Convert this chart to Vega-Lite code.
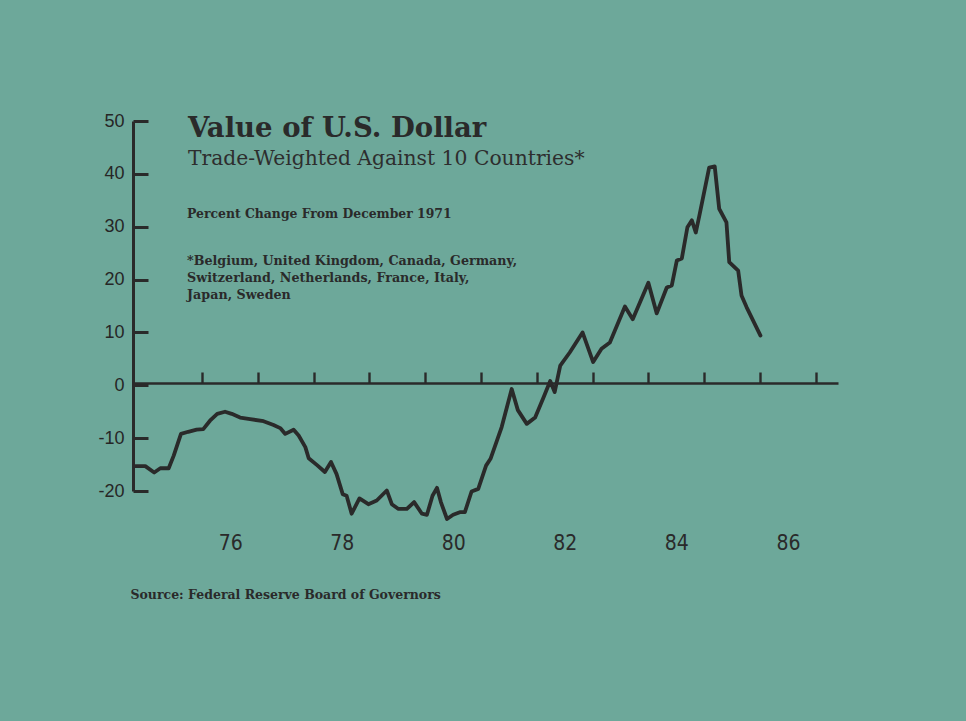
{
  "$schema": "https://vega.github.io/schema/vega-lite/v6.json",
  "width": 705,
  "height": 370,
  "autosize": {"type": "none"},
  "padding": {"left": 133, "top": 121, "right": 128, "bottom": 230},
  "background": "#6da89a",
  "title": {
    "text": "Value of U.S. Dollar",
    "subtitle": "Trade-Weighted Against 10 Countries*",
    "anchor": "start",
    "frame": "group",
    "dx": 55,
    "offset": -57,
    "font": "DejaVu Serif",
    "fontSize": 27.5,
    "fontWeight": "bold",
    "color": "#2a2a2a",
    "subtitleFont": "DejaVu Serif",
    "subtitleFontSize": 20.3,
    "subtitleColor": "#2e2e2e",
    "subtitlePadding": 6
  },
  "resolve": {"axis": {"x": "independent", "y": "independent"}},
  "datasets": {
    "dollar": [
      {"year": 1974.80, "value": -15.3},
      {"year": 1974.98, "value": -15.3},
      {"year": 1975.14, "value": -16.5},
      {"year": 1975.25, "value": -15.7},
      {"year": 1975.40, "value": -15.7},
      {"year": 1975.49, "value": -13.3},
      {"year": 1975.62, "value": -9.2},
      {"year": 1975.75, "value": -8.8},
      {"year": 1975.90, "value": -8.4},
      {"year": 1976.02, "value": -8.3},
      {"year": 1976.14, "value": -6.7},
      {"year": 1976.27, "value": -5.4},
      {"year": 1976.41, "value": -5.0},
      {"year": 1976.53, "value": -5.4},
      {"year": 1976.68, "value": -6.1},
      {"year": 1976.86, "value": -6.4},
      {"year": 1977.10, "value": -6.8},
      {"year": 1977.28, "value": -7.5},
      {"year": 1977.40, "value": -8.1},
      {"year": 1977.49, "value": -9.2},
      {"year": 1977.64, "value": -8.4},
      {"year": 1977.73, "value": -9.5},
      {"year": 1977.85, "value": -11.7},
      {"year": 1977.91, "value": -13.8},
      {"year": 1978.06, "value": -15.1},
      {"year": 1978.20, "value": -16.4},
      {"year": 1978.31, "value": -14.5},
      {"year": 1978.41, "value": -16.8},
      {"year": 1978.52, "value": -20.6},
      {"year": 1978.59, "value": -20.9},
      {"year": 1978.68, "value": -24.3},
      {"year": 1978.82, "value": -21.4},
      {"year": 1978.98, "value": -22.5},
      {"year": 1979.13, "value": -21.8},
      {"year": 1979.31, "value": -19.9},
      {"year": 1979.40, "value": -22.5},
      {"year": 1979.52, "value": -23.4},
      {"year": 1979.67, "value": -23.4},
      {"year": 1979.80, "value": -22.1},
      {"year": 1979.94, "value": -24.3},
      {"year": 1980.03, "value": -24.5},
      {"year": 1980.13, "value": -20.9},
      {"year": 1980.21, "value": -19.4},
      {"year": 1980.28, "value": -22.1},
      {"year": 1980.39, "value": -25.3},
      {"year": 1980.50, "value": -24.5},
      {"year": 1980.62, "value": -24.0},
      {"year": 1980.71, "value": -24.0},
      {"year": 1980.83, "value": -20.1},
      {"year": 1980.95, "value": -19.6},
      {"year": 1981.09, "value": -15.2},
      {"year": 1981.17, "value": -13.9},
      {"year": 1981.37, "value": -7.9},
      {"year": 1981.55, "value": -0.7},
      {"year": 1981.66, "value": -4.7},
      {"year": 1981.82, "value": -7.3},
      {"year": 1981.97, "value": -6.1},
      {"year": 1982.12, "value": -2.3},
      {"year": 1982.24, "value": 0.8},
      {"year": 1982.32, "value": -1.3},
      {"year": 1982.42, "value": 3.7},
      {"year": 1982.59, "value": 6.2},
      {"year": 1982.82, "value": 10.0},
      {"year": 1983.01, "value": 4.4},
      {"year": 1983.16, "value": 6.9},
      {"year": 1983.31, "value": 8.1},
      {"year": 1983.58, "value": 14.9},
      {"year": 1983.72, "value": 12.5},
      {"year": 1984.00, "value": 19.4},
      {"year": 1984.15, "value": 13.6},
      {"year": 1984.33, "value": 18.5},
      {"year": 1984.42, "value": 18.9},
      {"year": 1984.51, "value": 23.6},
      {"year": 1984.60, "value": 24.0},
      {"year": 1984.70, "value": 29.9},
      {"year": 1984.78, "value": 31.2},
      {"year": 1984.85, "value": 28.9},
      {"year": 1984.92, "value": 32.4},
      {"year": 1985.09, "value": 41.2},
      {"year": 1985.19, "value": 41.4},
      {"year": 1985.27, "value": 33.4},
      {"year": 1985.40, "value": 30.8},
      {"year": 1985.45, "value": 23.3},
      {"year": 1985.61, "value": 21.7},
      {"year": 1985.67, "value": 17.0},
      {"year": 1985.76, "value": 14.8},
      {"year": 1986.01, "value": 9.4}
    ]
  },
  "layer": [
    {
      "data": {"name": "dollar"},
      "mark": {"type": "line", "color": "#2a2a2a", "strokeWidth": 3.8, "strokeJoin": "round", "strokeCap": "round", "clip": false},
      "encoding": {
        "x": {
          "field": "year",
          "type": "quantitative",
          "scale": {"domain": [1974.76, 1987.4], "nice": false, "zero": false},
          "axis": {
            "orient": "bottom",
            "offset": -108,
            "values": [1976, 1977, 1978, 1979, 1980, 1981, 1982, 1983, 1984, 1985, 1986, 1987],
            "grid": false,
            "domain": true,
            "ticks": true,
            "labels": true,
            "domainColor": "#2a2a2a",
            "domainWidth": 2.6,
            "tickColor": "#2a2a2a",
            "tickWidth": 2.4,
            "tickSize": -11,
            "labelExpr": "datum.value % 2 == 0 && datum.value < 1987 ? '' + (datum.value % 100) : ''",
            "labelOffset": 28,
            "labelPadding": 160,
            "labelFlush": false,
            "labelOverlap": false,
            "labelBound": false,
            "labelFont": "DejaVu Sans Condensed, Liberation Sans",
            "labelFontSize": 21,
            "labelColor": "#2a2a2a",
            "title": "Source: Federal Reserve Board of Governors",
            "titleX": -3,
            "titleY": 215,
            "titleAlign": "left",
            "titleBaseline": "alphabetic",
            "titleFont": "DejaVu Serif",
            "titleFontSize": 12.5,
            "titleFontWeight": "bold",
            "titleColor": "#2a2a2a"
          }
        },
        "y": {
          "field": "value",
          "type": "quantitative",
          "scale": {"domain": [-20, 50], "nice": false, "zero": false},
          "axis": {
            "orient": "left",
            "values": [-20, -10, 0, 10, 20, 30, 40, 50],
            "grid": false,
            "domain": true,
            "ticks": true,
            "labels": true,
            "domainColor": "#2a2a2a",
            "domainWidth": 3,
            "tickColor": "#2a2a2a",
            "tickWidth": 3,
            "tickSize": -15,
            "labelExpr": "'' + datum.value",
            "labelPadding": 24,
            "labelFont": "Liberation Sans",
            "labelFontSize": 18,
            "labelColor": "#262626",
            "labelOverlap": false,
            "labelFlush": false,
            "title": null
          }
        }
      }
    },
    {
      "data": {"values": [{}]},
      "mark": {"type": "text", "text": "Percent Change From December 1971", "align": "left", "baseline": "alphabetic", "font": "DejaVu Serif", "fontSize": 12.4, "fontWeight": "bold", "color": "#2a2a2a"},
      "encoding": {
        "x": {"datum": 1975.73, "type": "quantitative", "scale": {"domain": [1974.76, 1987.4], "nice": false, "zero": false}, "axis": null},
        "y": {"datum": 31.6, "type": "quantitative", "scale": {"domain": [-20, 50], "nice": false, "zero": false}, "axis": null}
      }
    },
    {
      "data": {"values": [{}]},
      "mark": {"type": "text", "text": ["*Belgium, United Kingdom, Canada, Germany,", "Switzerland, Netherlands, France, Italy,", "Japan, Sweden"], "align": "left", "baseline": "alphabetic", "lineHeight": 17, "font": "DejaVu Serif", "fontSize": 12.7, "fontWeight": "bold", "color": "#2a2a2a"},
      "encoding": {
        "x": {"datum": 1975.73, "type": "quantitative", "scale": {"domain": [1974.76, 1987.4], "nice": false, "zero": false}, "axis": null},
        "y": {"datum": 22.7, "type": "quantitative", "scale": {"domain": [-20, 50], "nice": false, "zero": false}, "axis": null}
      }
    }
  ],
  "config": {
    "view": {"stroke": null},
    "axis": {"grid": false}
  }
}
